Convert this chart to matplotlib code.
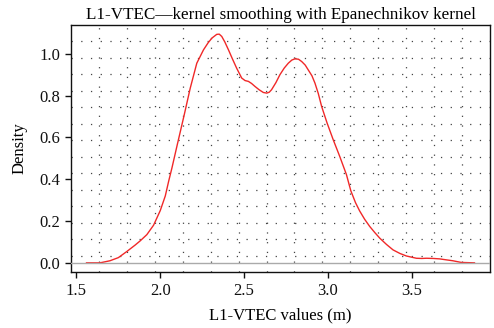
import matplotlib
matplotlib.use("Agg")
import matplotlib.pyplot as plt

# Kernel density estimate of L1-VTEC values (Epanechnikov kernel)
vtec_x = [1.56, 1.64, 1.70, 1.75, 1.80, 1.85, 1.88, 1.92, 1.96, 2.00, 2.03, 2.05,
          2.07, 2.10, 2.143, 2.179, 2.20, 2.218, 2.258, 2.285, 2.308, 2.337, 2.352,
          2.367, 2.385, 2.407, 2.431, 2.456, 2.486, 2.506, 2.526, 2.545, 2.565, 2.59,
          2.615, 2.635, 2.650, 2.664, 2.69, 2.714, 2.74, 2.764, 2.785, 2.804, 2.825,
          2.844, 2.865, 2.883, 2.905, 2.923, 2.943, 2.963, 2.995, 3.032, 3.071, 3.111,
          3.137, 3.165, 3.19, 3.22, 3.25, 3.28, 3.31, 3.35, 3.389, 3.43, 3.468, 3.528,
          3.56, 3.588, 3.63, 3.667, 3.71, 3.746, 3.796, 3.875]
density = [0.0, 0.0, 0.01, 0.025, 0.054, 0.085, 0.105, 0.135, 0.18, 0.25, 0.32, 0.39,
           0.455, 0.56, 0.708, 0.836, 0.90, 0.955, 1.019, 1.052, 1.075, 1.093, 1.094,
           1.083, 1.057, 1.019, 0.975, 0.931, 0.884, 0.872, 0.868, 0.858, 0.844, 0.828,
           0.815, 0.812, 0.816, 0.828, 0.862, 0.900, 0.932, 0.955, 0.970, 0.976, 0.974,
           0.963, 0.946, 0.923, 0.895, 0.86, 0.81, 0.748, 0.67, 0.589, 0.509, 0.422,
           0.345, 0.288, 0.248, 0.208, 0.174, 0.145, 0.118, 0.088, 0.062, 0.045, 0.033,
           0.022, 0.021, 0.022, 0.021, 0.019, 0.014, 0.01, 0.002, 0.0]

x_ticks = [1.5, 2.0, 2.5, 3.0, 3.5]
y_ticks = [0.0, 0.2, 0.4, 0.6, 0.8, 1.0]

plt.rcParams['font.family'] = ['Liberation Serif', 'DejaVu Serif']
plt.rcParams['lines.scale_dashes'] = False

fig = plt.figure(figsize=(4.94, 3.28), dpi=100)
ax = fig.add_axes([71 / 494, 56 / 328, 419 / 494, 247 / 328])

# R-style 4% padding around the data range
xr = max(vtec_x) - min(vtec_x)
yr = max(density) - min(density)
x0, x1 = min(vtec_x) - 0.04 * xr, max(vtec_x) + 0.04 * xr
y0, y1 = min(density) - 0.04 * yr, max(density) + 0.04 * yr
ax.set_xlim(x0, x1)
ax.set_ylim(y0, y1)

# dotted 15 x 15 grid
ncell = 15
grid_kw = dict(color='#444444', linewidth=0.9, linestyle=(0, (0.9, 6.1)), zorder=1)
for k in range(1, ncell):
    ax.axhline(y0 + k * (y1 - y0) / ncell, **grid_kw)
    ax.axvline(x0 + k * (x1 - x0) / ncell, **grid_kw)

ax.plot(vtec_x, density, color='#f02828', linewidth=1.0, zorder=3,
        solid_joinstyle='round')
ax.axhline(0, color='#aaaaaa', linewidth=1.0, zorder=4)

ax.set_xticks(x_ticks)
ax.set_xticklabels([f"{v:.1f}" for v in x_ticks])
ax.set_yticks(y_ticks)
ax.set_yticklabels([f"{v:.1f}" for v in y_ticks])
ax.tick_params(direction='out', length=4, width=1, labelsize=12, pad=4, colors='#111111')

for s in ax.spines.values():
    s.set_linewidth(1.0)
    s.set_color('#111111')

ax.set_title("L1-VTEC\u2014kernel smoothing with Epanechnikov kernel", fontsize=12.3, pad=4)
ax.set_xlabel("L1-VTEC values (m)", fontsize=12, labelpad=6)
ax.set_ylabel("Density", fontsize=12, labelpad=8)

fig.savefig("out.png", dpi=100)
